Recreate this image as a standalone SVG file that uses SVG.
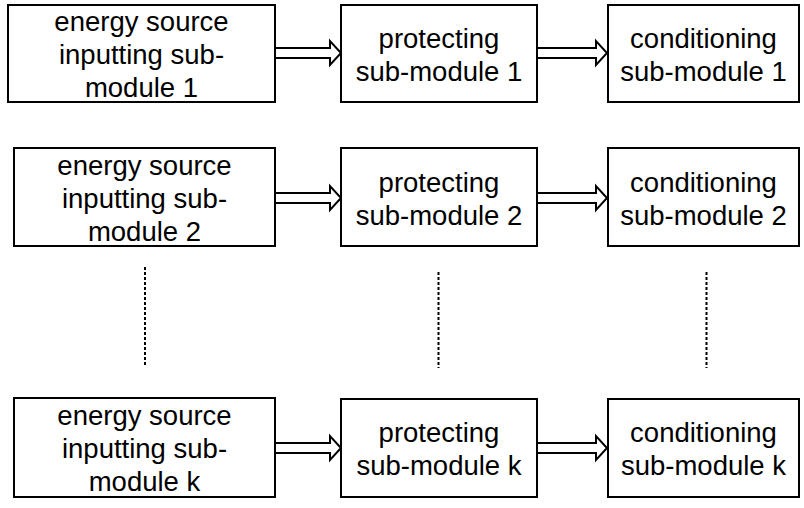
<svg xmlns="http://www.w3.org/2000/svg" width="804" height="508" viewBox="0 0 804 508">
<style>
.box{fill:#fff;stroke:#000;stroke-width:2}
.t{font-family:"Liberation Sans",Arial,sans-serif;font-size:27.5px;fill:#000;text-anchor:middle}
.arr{fill:#fff;stroke:#000;stroke-width:2;stroke-linejoin:miter}
.dot{stroke:#000;stroke-width:2;stroke-dasharray:3 2;fill:none}
</style>
<rect width="804" height="508" fill="#fff"/>
<g id="connectors">
<polygon class="arr" points="275,48 330,48 330,41 341,53 330,65 330,58 275,58"/>
<polygon class="arr" points="537,48 596,48 596,41 607,53 596,65 596,58 537,58"/>
<polygon class="arr" points="275,193 330,193 330,186 341,198 330,210 330,203 275,203"/>
<polygon class="arr" points="537,193 596,193 596,186 607,198 596,210 596,203 537,203"/>
<polygon class="arr" points="275,443 330,443 330,436 341,448 330,460 330,453 275,453"/>
<polygon class="arr" points="537,443 596,443 596,436 607,448 596,460 596,453 537,453"/>
<line class="dot" x1="145" y1="267" x2="145" y2="367"/>
<line class="dot" x1="438.5" y1="272" x2="438.5" y2="368"/>
<line class="dot" x1="706.5" y1="272" x2="706.5" y2="368"/>
</g>
<g id="energy1">
<rect class="box" x="8" y="5" width="267" height="97"/>
<text class="t" x="141.5" y="31">energy source</text>
<text class="t" x="141.5" y="64">inputting sub-</text>
<text class="t" x="141.5" y="97">module 1</text>
</g>
<g id="protect1">
<rect class="box" x="341" y="5" width="196" height="97"/>
<text class="t" x="439" y="48">protecting</text>
<text class="t" x="439" y="81">sub-module 1</text>
</g>
<g id="cond1">
<rect class="box" x="608" y="5" width="191" height="97"/>
<text class="t" x="703.5" y="48">conditioning</text>
<text class="t" x="703.5" y="81">sub-module 1</text>
</g>
<g id="energy2">
<rect class="box" x="14" y="148" width="261" height="98"/>
<text class="t" x="144.5" y="175">energy source</text>
<text class="t" x="144.5" y="208">inputting sub-</text>
<text class="t" x="144.5" y="241">module 2</text>
</g>
<g id="protect2">
<rect class="box" x="341" y="148" width="196" height="98"/>
<text class="t" x="439" y="192">protecting</text>
<text class="t" x="439" y="225">sub-module 2</text>
</g>
<g id="cond2">
<rect class="box" x="608" y="148" width="191" height="98"/>
<text class="t" x="703.5" y="192">conditioning</text>
<text class="t" x="703.5" y="225">sub-module 2</text>
</g>
<g id="energyk">
<rect class="box" x="14" y="398" width="261" height="99"/>
<text class="t" x="144.5" y="425">energy source</text>
<text class="t" x="144.5" y="458">inputting sub-</text>
<text class="t" x="144.5" y="491">module k</text>
</g>
<g id="protectk">
<rect class="box" x="341" y="399" width="196" height="98"/>
<text class="t" x="439" y="442">protecting</text>
<text class="t" x="439" y="475">sub-module k</text>
</g>
<g id="condk">
<rect class="box" x="608" y="399" width="191" height="98"/>
<text class="t" x="703.5" y="442">conditioning</text>
<text class="t" x="703.5" y="475">sub-module k</text>
</g>
</svg>
